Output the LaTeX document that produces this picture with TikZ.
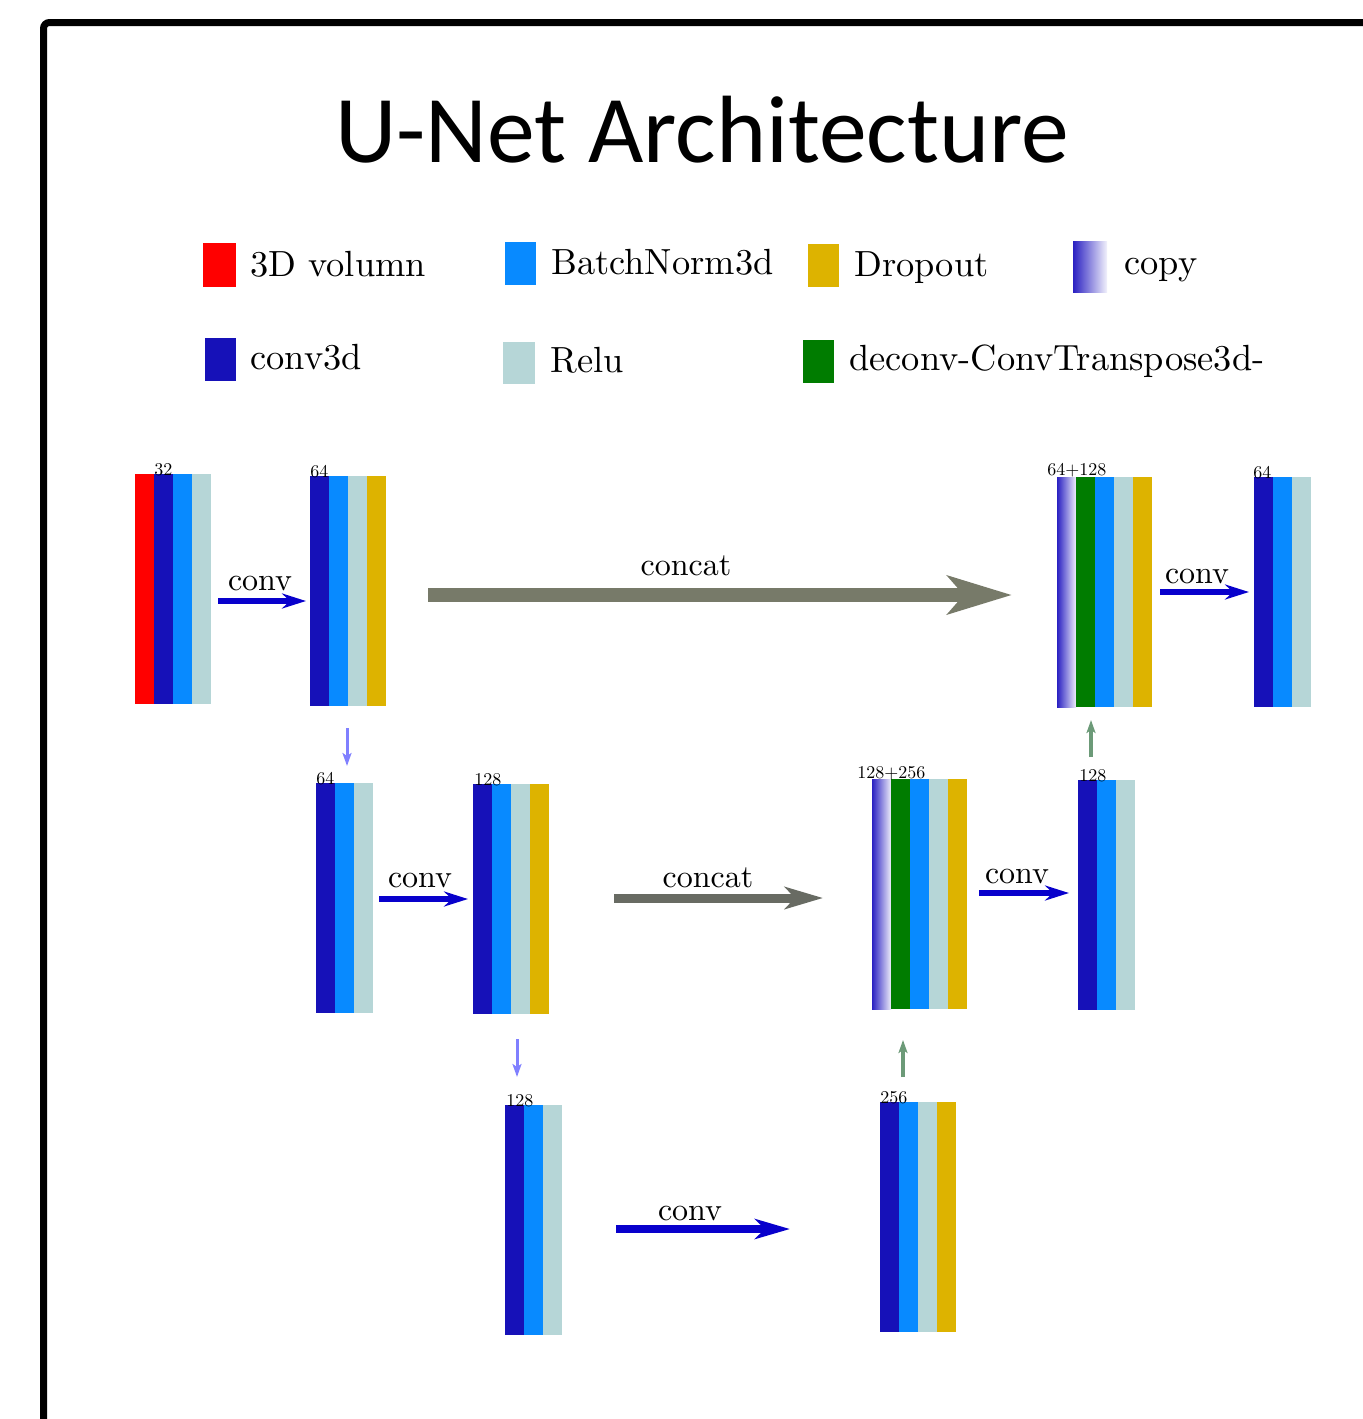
\documentclass[tikz,border=0pt]{standalone}
\usepackage{fontspec}
\newfontfamily\titlefont{Carlito}
\newfontfamily\lmten{lmroman10-regular.otf}
\usetikzlibrary{arrows.meta}
\definecolor{cvol}{HTML}{FF0000}
\definecolor{cconv}{HTML}{1611B8}
\definecolor{cbn}{HTML}{088AFF}
\definecolor{crelu}{HTML}{B6D6D7}
\definecolor{cdrop}{HTML}{DDB300}
\definecolor{cdec}{HTML}{007C00}
\definecolor{ccopy}{HTML}{2A20C2}
\definecolor{carrow}{HTML}{0800CC}
\definecolor{ccat}{HTML}{777A69}
\definecolor{ccatb}{HTML}{686B63}
\definecolor{cdown}{HTML}{8080FF}
\definecolor{cup}{HTML}{6C9A78}
\newcommand{\ublock}[4]{%
  \foreach \s [count=\i from 0] in {#4} {%
    \path[paint/.expanded=\s] ({#2+19*\i},{#3}) rectangle ({#2+19*\i+19.4},{#3+230});}
  \coordinate (#1) at (#2,#3);}
\begin{document}
\begin{tikzpicture}[x=0.5pt,y=-0.5pt,
  paint/.style={#1},
  s3d/.style={fill=cvol}, sconv/.style={fill=cconv}, sbn/.style={fill=cbn},
  srelu/.style={fill=crelu}, sdrop/.style={fill=cdrop}, sdec/.style={fill=cdec},
  scopy/.style={left color=ccopy, right color=ccopy!6},
  lbl/.style={font=\lmten\fontsize{9}{11}\selectfont, inner sep=0, anchor=base west},
  leg/.style={font=\lmten\fontsize{18.2}{22}\selectfont, inner sep=0, anchor=base west},
  alab/.style={font=\lmten\fontsize{16}{19}\selectfont, inner sep=0, anchor=base},
  convarr/.style={draw=carrow, line width=3.2pt, -{Stealth[length=12pt,width=7.5pt,inset=4pt]}},
  convbig/.style={draw=carrow, line width=4pt, -{Stealth[length=17.5pt,width=10pt,inset=5pt]}},
  catbig/.style={draw=ccat, line width=7pt, -{Stealth[length=32pt,width=19pt,inset=8pt]}},
  catsmall/.style={draw=ccatb, line width=4.5pt, -{Stealth[length=19pt,width=11pt,inset=5pt]}},
  downarr/.style={draw=cdown, line width=1.5pt, -{Stealth[length=6.5pt,width=4.5pt,inset=1.5pt]}},
  uparr/.style={draw=cup, line width=1.7pt, -{Stealth[length=6.5pt,width=4.5pt,inset=1.5pt]}}
]
\useasboundingbox (0,0) rectangle (1362,1419);
% frame
\draw[line width=3.5pt, rounded corners=3pt] (43.5,1450) -- (43.5,22.5) -- (1400,22.5);
% title
\node[anchor=base, inner sep=0, font=\titlefont\fontsize{47.8}{56}\selectfont] (title) at (702,162) {U-Net Architecture};
% legend
\fill[cvol] (203,243) rectangle (236,287);
\node[leg] (k1) at (250,276) {3D volumn};
\fill[cbn] (505,242) rectangle (536,285);
\node[leg] (k2) at (551,274) {BatchNorm3d};
\fill[cdrop] (808,244) rectangle (839,287);
\node[leg] (k3) at (854,276) {Dropout};
\path[scopy] (1073,241) rectangle (1107,292);
\node[leg] (k4) at (1124,274) {copy};
\fill[cconv] (205,338) rectangle (236,381);
\node[leg] (k5) at (250,369) {conv3d};
\fill[crelu] (503,342) rectangle (535,384);
\node[leg] (k6) at (550,372) {Relu};
\fill[cdec] (803,340) rectangle (834,383);
\node[leg] (k7) at (849,370) {deconv-ConvTranspose3d-};
% blocks
\ublock{b1}{135}{474}{s3d,sconv,sbn,srelu}
\ublock{b2}{310}{476}{sconv,sbn,srelu,sdrop}
\ublock{b3}{316}{783}{sconv,sbn,srelu}
\ublock{b4}{473}{784}{sconv,sbn,srelu,sdrop}
\ublock{b9}{505}{1105}{sconv,sbn,srelu}
\ublock{b10}{880}{1102}{sconv,sbn,srelu,sdrop}
\ublock{b5}{872}{779}{scopy,sdec,sbn,srelu,sdrop}
\ublock{b6}{1078}{780}{sconv,sbn,srelu}
\ublock{b7}{1057}{477}{scopy,sdec,sbn,srelu,sdrop}
\ublock{b8}{1254}{477}{sconv,sbn,srelu}
% block labels
\node[lbl] (l1) at (154,475) {32};
\node[lbl] (l2) at (310,477) {64};
\node[lbl] (l3) at (316,784) {64};
\node[lbl] (l4) at (474,785) {128};
\node[lbl] (l9) at (506,1106) {128};
\node[lbl] (l10) at (880,1103) {256};
\node[lbl] (l5) at (857,778) {128+256};
\node[lbl] (l6) at (1079,781) {128};
\node[lbl] (l7) at (1047,475) {64+128};
\node[lbl] (l8) at (1253,478) {64};
% arrow end points
\coordinate (c1s) at (218,601);  \coordinate (c1e) at (306,601);
\coordinate (c2s) at (379,899);  \coordinate (c2e) at (468,899);
\coordinate (c3s) at (616,1229); \coordinate (c3e) at (790,1229);
\coordinate (c4s) at (979,893);  \coordinate (c4e) at (1069,893);
\coordinate (c5s) at (1160,592); \coordinate (c5e) at (1249,592);
\coordinate (k1s) at (428,595);  \coordinate (k1e) at (1012,595);
\coordinate (k2s) at (614,898);  \coordinate (k2e) at (823,898);
\coordinate (d1s) at (347,728);  \coordinate (d1e) at (347,766);
\coordinate (d2s) at (517,1039); \coordinate (d2e) at (517,1077);
\coordinate (u1s) at (903,1077); \coordinate (u1e) at (903,1040);
\coordinate (u2s) at (1091,757); \coordinate (u2e) at (1091,720);
% arrows
\draw[convarr] (c1s) -- (c1e);
\draw[convarr] (c2s) -- (c2e);
\draw[convbig] (c3s) -- (c3e);
\draw[convarr] (c4s) -- (c4e);
\draw[convarr] (c5s) -- (c5e);
\draw[catbig] (k1s) -- (k1e);
\draw[catsmall] (k2s) -- (k2e);
\draw[downarr] (d1s) -- (d1e);
\draw[downarr] (d2s) -- (d2e);
\draw[uparr] (u1s) -- (u1e);
\draw[uparr] (u2s) -- (u2e);
% arrow labels
\node[alab] (t1) at (260,590) {conv};
\node[alab] (t2) at (420,887) {conv};
\node[alab] (t3) at (690,1220) {conv};
\node[alab] (t4) at (1017,883) {conv};
\node[alab] (t5) at (1197,583) {conv};
\node[alab] (t6) at (686,575) {concat};
\node[alab] (t7) at (708,887) {concat};
\end{tikzpicture}
\end{document}
